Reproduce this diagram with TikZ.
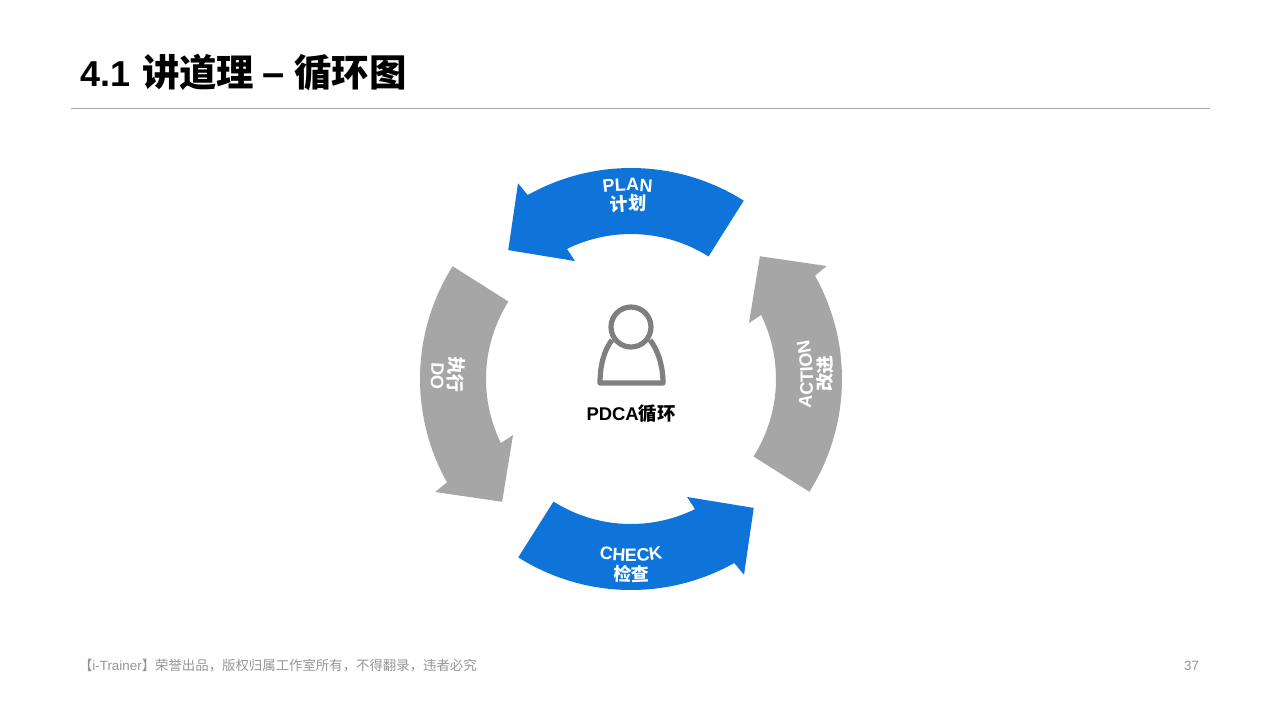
\documentclass[tikz,border=0pt]{standalone}
\usepackage{fontspec}
\setmainfont{Liberation Sans}
\newfontfamily\cjk{Noto Sans CJK SC}
\usetikzlibrary{decorations.text}
\definecolor{arrowblue}{HTML}{0E74DA}
\definecolor{arrowgray}{HTML}{A6A6A6}
\definecolor{icongray}{HTML}{7F7F7F}
\definecolor{footgray}{HTML}{969696}
\tikzset{
	x=0.5pt, y=0.5pt, % one unit is one pixel of the slide
	every node/.style={inner sep=0pt, outer sep=0pt},
	title/.style={anchor=west, font=\fontsize{18}{18}\selectfont\bfseries},
	footer/.style={anchor=west, text=footgray, font=\fontsize{6.7}{6.7}\selectfont},
	person/.style={draw=icongray, line width=2.6pt, line join=round},
}
\newcommand{\titlecjk}[1]{{\fontsize{18.7}{18.7}\selectfont\cjk #1}}
% text bent along a circle round the ring centre: radius, middle angle, font, text
\newcommand{\arclabel}[4]{
	\path[decorate, decoration={text along path, text align=center, text color=white,
		text={|\fontsize{9}{9}\selectfont\bfseries#3|#4}}]
		(#2-40:#1) arc[start angle=#2-40, end angle=#2+40, radius=#1];
}
\newcommand{\arclabeltop}[4]{
	\path[decorate, decoration={text along path, text align=center, text color=white,
		text={|\fontsize{9}{9}\selectfont\bfseries#3|#4}}]
		(#2+40:#1) arc[start angle=#2+40, end angle=#2-40, radius=#1];
}
\begin{document}
\begin{tikzpicture}
	\useasboundingbox[fill=white] (0,0) rectangle (1280,-720);

	\node[title] (heading) at (80,-72) {4.1\hspace{6pt}\titlecjk{讲道理}\hspace{4pt}{\fontsize{20}{20}\selectfont –}\hspace{5pt}\titlecjk{循环图}};
	\draw[arrowgray, line width=0.5pt] (71,-108) -- (1210,-108);

	\begin{scope}[shift={(631,-379)}]
		% the four ring arrows are one shape turned by 90 degrees
		\foreach \ang/\col in {0/arrowblue, 90/arrowgray, 180/arrowblue, 270/arrowgray}
			\fill[\col, rotate=\ang] (57.7:211) arc[start angle=57.7, end angle=119.3, radius=211]
				-- (120:226) -- (133.6:178) -- (115.4:130.6) -- (116.2:145)
				arc[start angle=116.2, end angle=57.7, radius=145] -- cycle;

		\arclabeltop{188}{91}{}{PLAN}
		\arclabeltop{169}{91}{\cjk}{计划}
		\arclabel{200}{179}{}{DO}
		\arclabel{182}{178.5}{\cjk}{执行}
		\arclabel{182}{270}{}{CHECK}
		\arclabel{202}{270}{\cjk}{检查}
		\arclabel{182}{1.5}{}{ACTION}
		\arclabel{201}{1.5}{\cjk}{改进}
	\end{scope}

	% person icon
	\draw[person] (631,-327) circle (20);
	\draw[person] (612,-340) .. controls (604,-350) and (600,-366) .. (600,-383)
		-- (663,-383) .. controls (663,-366) and (658,-350) .. (650,-340);

	\node[font=\fontsize{9.2}{9.2}\selectfont\bfseries] (pdca) at (631,-414) {PDCA{\cjk 循环}};

	\node[footer] (note) at (79,-666) {{\cjk 【}i-Trainer{\cjk 】荣誉出品，版权归属工作室所有，不得翻录，违者必究}};
	\node[footer, anchor=east] (pageno) at (1199,-666) {37};
\end{tikzpicture}
\end{document}
